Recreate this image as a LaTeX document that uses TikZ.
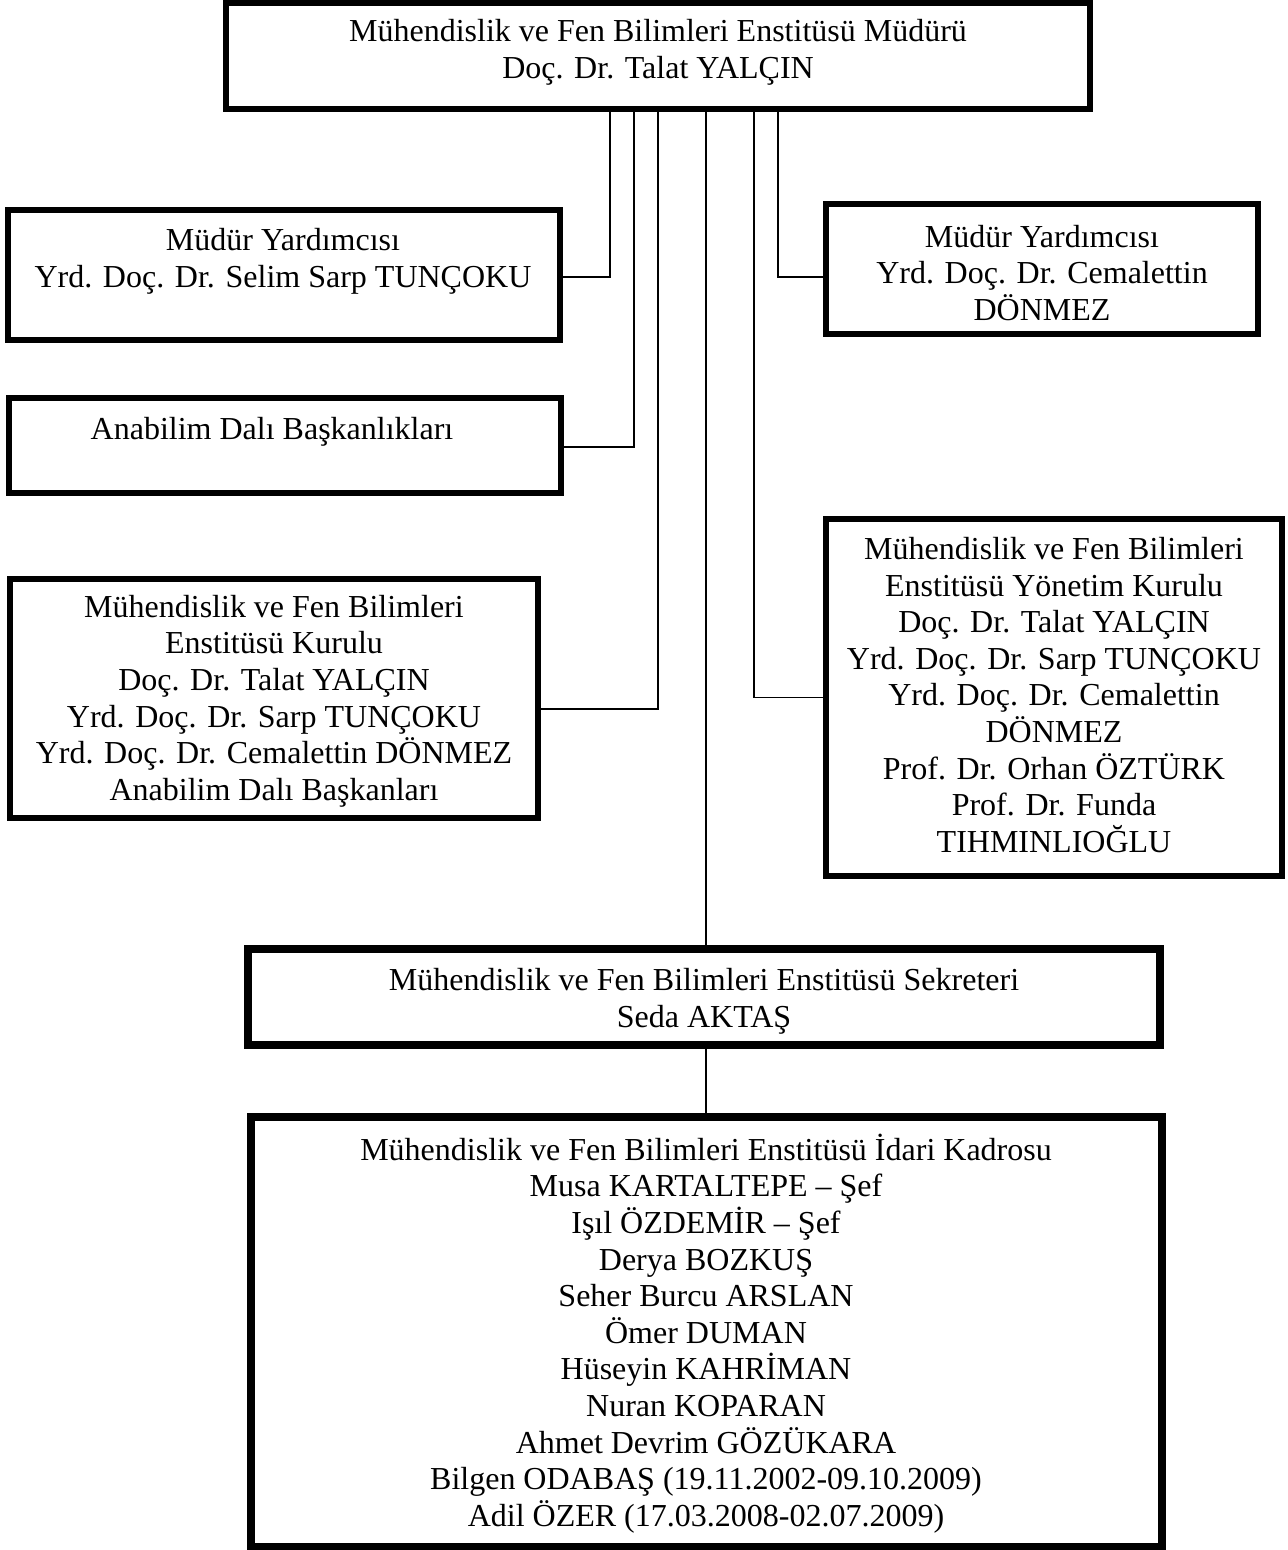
\documentclass[tikz,border=0pt]{standalone}
\usepackage{fontspec}
\setmainfont{Liberation Serif}
\begin{document}
\begin{tikzpicture}[x=0.5pt,y=-0.5pt,
  box/.style={draw=black,line width=2.9pt,rectangle,inner sep=0pt,outer sep=0pt,fill=none},
  bigbox/.style={box,line width=4pt},
  txt/.style={align=center,inner sep=0pt,font=\fontsize{16}{18.3}\selectfont},
  conn/.style={draw=black,line width=0.8pt}]
\useasboundingbox (0,0) rectangle (1288,1550);
% boxes (centres and sizes in px)
\node[box,minimum width=432pt,minimum height=53pt] (top) at (658,55.75) {};
\node[box,minimum width=276pt,minimum height=65pt] (my1) at (284,275) {};
\node[box,minimum width=216pt,minimum height=65pt] (my2) at (1042,269) {};
\node[box,minimum width=276pt,minimum height=47.5pt] (ana) at (285,445.5) {};
\node[box,minimum width=264pt,minimum height=119.5pt] (kur) at (274,698.5) {};
\node[box,minimum width=228pt,minimum height=178.5pt] (yon) at (1054,697.5) {};
\node[bigbox,minimum width=456pt,minimum height=48pt] (sek) at (704,997) {};
\node[bigbox,minimum width=455.5pt,minimum height=215pt] (adm) at (706.5,1332) {};
% texts
\node[txt] (topT) at (658,52.5) {Mühendislik ve Fen Bilimleri Enstitüsü Müdürü\\Doç. Dr. Talat YALÇIN};
\node[txt] (my1T) at (283,261.5) {Müdür Yardımcısı\\Yrd. Doç. Dr. Selim Sarp TUNÇOKU};
\node[txt] (my2T) at (1042,273) {Müdür Yardımcısı\\Yrd. Doç. Dr. Cemalettin\\DÖNMEZ};
\node[txt] (anaT) at (272,432) {Anabilim Dalı Başkanlıkları};
\node[txt] (kurT) at (274,701) {Mühendislik ve Fen Bilimleri\\Enstitüsü Kurulu\\Doç. Dr. Talat YALÇIN\\Yrd. Doç. Dr. Sarp TUNÇOKU\\Yrd. Doç. Dr. Cemalettin DÖNMEZ\\Anabilim Dalı Başkanları};
\node[txt] (yonT) at (1054,695) {Mühendislik ve Fen Bilimleri\\Enstitüsü Yönetim Kurulu\\Doç. Dr. Talat YALÇIN\\Yrd. Doç. Dr. Sarp TUNÇOKU\\Yrd. Doç. Dr. Cemalettin\\DÖNMEZ\\Prof. Dr. Orhan ÖZTÜRK\\Prof. Dr. Funda\\TIHMINLIOĞLU};
\node[txt] (sekT) at (704,1001.5) {Mühendislik ve Fen Bilimleri Enstitüsü Sekreteri\\Seda AKTAŞ};
\node[txt] (admT) at (706,1333.5) {Mühendislik ve Fen Bilimleri Enstitüsü İdari Kadrosu\\Musa KARTALTEPE – Şef\\Işıl ÖZDEMİR – Şef\\Derya BOZKUŞ\\Seher Burcu ARSLAN\\Ömer DUMAN\\Hüseyin KAHRİMAN\\Nuran KOPARAN\\Ahmet Devrim GÖZÜKARA\\Bilgen ODABAŞ (19.11.2002-09.10.2009)\\Adil ÖZER (17.03.2008-02.07.2009)};
% connector columns
\coordinate (c1) at (610,0);
\coordinate (c2) at (634,0);
\coordinate (c3) at (658,0);
\coordinate (c4) at (706,0);
\coordinate (c5) at (754,0);
\coordinate (c6) at (778,0);
% connectors
\draw[conn] (top.south -| c1) |- ([yshift=-1pt]my1.east);
\draw[conn] (top.south -| c2) |- ([yshift=-0.75pt]ana.east);
\draw[conn] (top.south -| c3) |- ([yshift=-5.25pt]kur.east);
\draw[conn] (top.south -| c4) -- (sek.north -| c4);
\draw[conn] (top.south -| c5) |- (yon.west);
\draw[conn] (top.south -| c6) |- ([yshift=-4pt]my2.west);
\draw[conn] (sek.south -| c4) -- (adm.north -| c4);
\end{tikzpicture}
\end{document}
